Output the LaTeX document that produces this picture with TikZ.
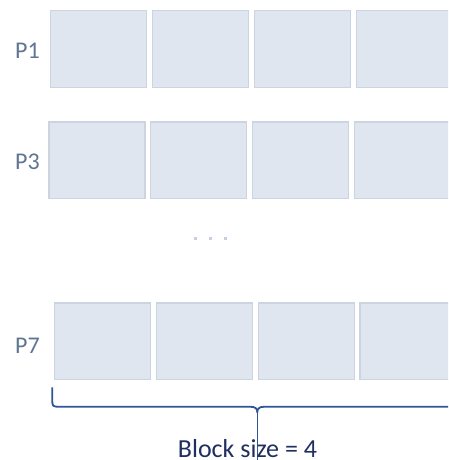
\documentclass[tikz,border=0pt]{standalone}
\usepackage{fontspec}
\setmainfont{Carlito}
\definecolor{boxfill}{HTML}{DFE6EF}
\definecolor{boxline}{HTML}{CBD4E0}
\definecolor{labelcol}{HTML}{5F7592}
\definecolor{bracecol}{HTML}{2F5597}
\definecolor{textcol}{HTML}{1F2F5F}
\definecolor{dotcol}{HTML}{C6D1DF}
\begin{document}
\begin{tikzpicture}[x=1pt,y=-1pt,
  cell/.style={draw=boxline,fill=boxfill,line width=1.3pt,minimum width=96pt,minimum height=76.5pt,inner sep=0pt,anchor=north west},
  plabel/.style={text=labelcol,font=\fontsize{24}{28}\selectfont,anchor=base,inner sep=0pt},
  dotmark/.style={fill=dotcol,minimum size=3pt,inner sep=0pt}]
\useasboundingbox (0,0) rectangle (448,460);
\clip (0,0) rectangle (448,460);
% row P1
\node[cell] (a1) at (50,10) {};
\node[cell] (a2) at (152,10) {};
\node[cell] (a3) at (254,10) {};
\node[cell] (a4) at (355.7,10) {};
\node[plabel] (l1) at (27.5,58.3) {P1};
% row P3
\node[cell] (b1) at (48.4,121.3) {};
\node[cell] (b2) at (149.7,121.3) {};
\node[cell] (b3) at (252,121.3) {};
\node[cell] (b4) at (353.7,121.3) {};
\node[plabel] (l3) at (27.5,169.3) {P3};
% dots
\node[dotmark] (d1) at (195,238.7) {};
\node[dotmark] (d2) at (210.3,238.7) {};
\node[dotmark] (d3) at (225.7,238.7) {};
% row P7
\node[cell] (c1) at (54,302.3) {};
\node[cell] (c2) at (156,302.3) {};
\node[cell] (c3) at (257.7,302.3) {};
\node[cell] (c4) at (359.4,302.3) {};
\node[plabel] (l7) at (27.5,353) {P7};
% brace
\coordinate (bl) at (52.3,387.3);
\coordinate (bm) at (257.3,412.5);
\coordinate (br) at (460,406.7);
\coordinate (bb) at (257.3,460);
\draw[bracecol,line width=1.8pt,line join=round]
  (bl) -- (52.3,399) .. controls (52.3,406.7) .. (60,406.7) -- (250,406.7)
  .. controls (256,406.7) and (257.3,409) .. (bm)
  .. controls (257.3,409) and (258.6,406.7) .. (264.6,406.7) -- (br);
\draw[bracecol,line width=1.1pt] (bm) -- (bb);
\node[text=textcol,font=\fontsize{26}{30}\selectfont,anchor=base,inner sep=0pt] (t) at (247.5,457) {Block size = 4};
\end{tikzpicture}
\end{document}
